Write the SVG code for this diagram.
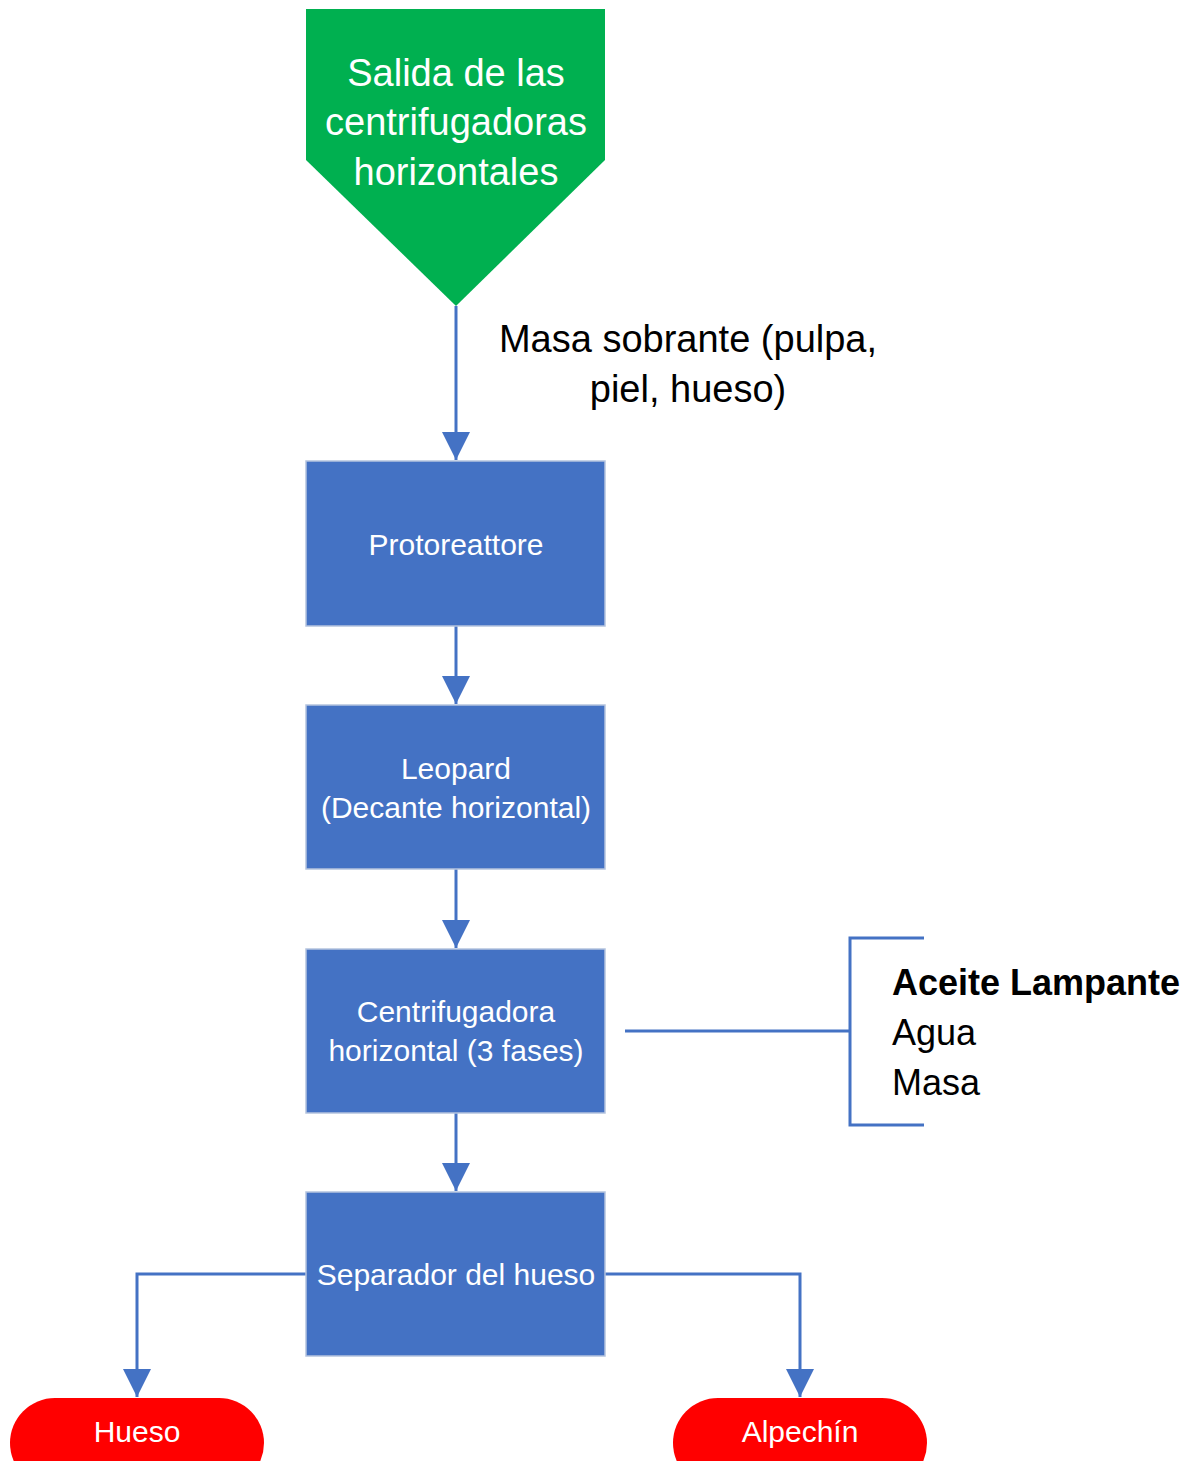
<svg xmlns="http://www.w3.org/2000/svg" width="1195" height="1461" viewBox="0 0 1195 1461">
  <style>
    .proc { fill: #4472C4; stroke: #B4C3DE; stroke-width: 1.5; }
    .term { fill: #FF0000; }
    .wt { fill: #FFFFFF; font-family: "Liberation Sans", "Noto Sans", sans-serif; font-size: 30px; text-anchor: middle; }
    .bk { fill: #000000; font-family: "Liberation Sans", "Noto Sans", sans-serif; font-size: 36px; }
    .link { fill: none; stroke: #4472C4; stroke-width: 3; }
  </style>
  <defs>
    <marker id="arrow" markerUnits="userSpaceOnUse" markerWidth="30" markerHeight="30" refX="28" refY="14" orient="auto">
      <path d="M0,0 L28,14 L0,28 Z" fill="#4472C4"/>
    </marker>
  </defs>

  <rect width="1195" height="1461" fill="#FFFFFF"/>

  <!-- connectors -->
  <g id="connectors">
    <path class="link" d="M456,306 V460" marker-end="url(#arrow)"/>
    <path class="link" d="M456,626 V704" marker-end="url(#arrow)"/>
    <path class="link" d="M456,869 V948" marker-end="url(#arrow)"/>
    <path class="link" d="M456,1113 V1191" marker-end="url(#arrow)"/>
    <path class="link" d="M306,1274 H137 V1397" marker-end="url(#arrow)"/>
    <path class="link" d="M605,1274 H800 V1397" marker-end="url(#arrow)"/>
    <path class="link" d="M625,1031 H850"/>
    <path class="link" d="M924,938 H850 V1125 H924"/>
  </g>

  <!-- off-page source -->
  <g id="salida">
    <polygon points="306,9 605,9 605,160 456,306 306,160" fill="#00B050"/>
    <text class="wt" style="font-size:38px" x="456" y="86">Salida de las</text>
    <text class="wt" style="font-size:38px" x="456" y="135">centrifugadoras</text>
    <text class="wt" style="font-size:38px" x="456" y="185">horizontales</text>
  </g>

  <g id="label-masa">
    <text class="bk" style="font-size:38px" x="688" y="352" text-anchor="middle">Masa sobrante (pulpa,</text>
    <text class="bk" style="font-size:38px" x="688" y="402" text-anchor="middle">piel, hueso)</text>
  </g>

  <g id="protoreattore">
    <rect class="proc" x="306" y="461" width="299" height="165"/>
    <text class="wt" x="456" y="555">Protoreattore</text>
  </g>

  <g id="leopard">
    <rect class="proc" x="306" y="705" width="299" height="164"/>
    <text class="wt" x="456" y="779">Leopard</text>
    <text class="wt" x="456" y="818">(Decante horizontal)</text>
  </g>

  <g id="centrifugadora">
    <rect class="proc" x="306" y="949" width="299" height="164"/>
    <text class="wt" x="456" y="1022">Centrifugadora</text>
    <text class="wt" x="456" y="1061">horizontal (3 fases)</text>
  </g>

  <g id="fases">
    <text class="bk" x="892" y="995" font-weight="bold">Aceite Lampante</text>
    <text class="bk" x="892" y="1045">Agua</text>
    <text class="bk" x="892" y="1095">Masa</text>
  </g>

  <g id="separador">
    <rect class="proc" x="306" y="1192" width="299" height="164"/>
    <text class="wt" x="456" y="1285">Separador del hueso</text>
  </g>

  <g id="hueso">
    <rect class="term" x="10" y="1398" width="254" height="90" rx="45" ry="45"/>
    <text class="wt" x="137" y="1442">Hueso</text>
  </g>

  <g id="alpechin">
    <rect class="term" x="673" y="1398" width="254" height="90" rx="45" ry="45"/>
    <text class="wt" x="800" y="1442">Alpechín</text>
  </g>
</svg>
